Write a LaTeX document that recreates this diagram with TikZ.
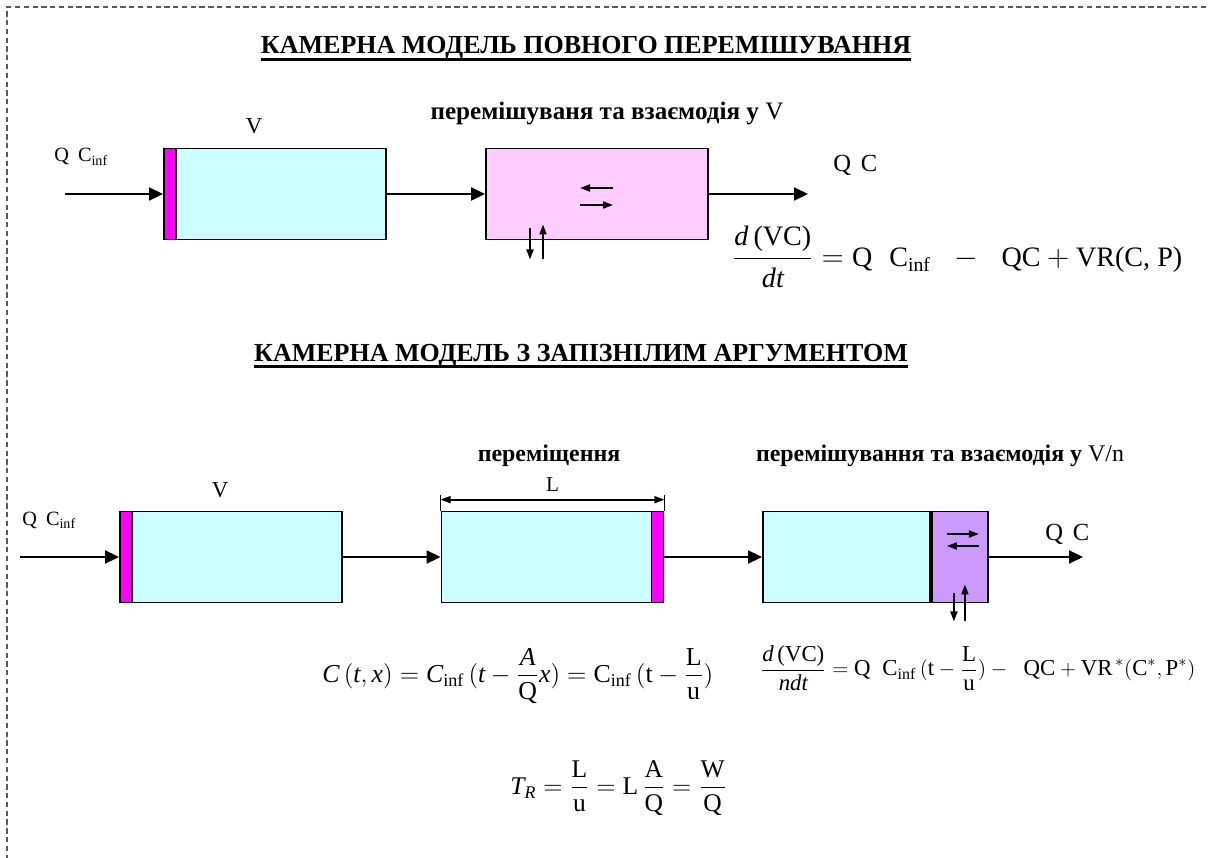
\documentclass[tikz,border=0pt]{standalone}
\usepackage{amsmath}
\usepackage{fontspec}
\setmainfont{Liberation Serif}
\usetikzlibrary{positioning,arrows.meta}
\definecolor{mycyan}{RGB}{204,255,255}
\definecolor{mymagenta}{RGB}{255,0,255}
\definecolor{mypink}{RGB}{255,204,255}
\definecolor{mylilac}{RGB}{204,153,255}
\definecolor{mygray}{RGB}{90,90,90}

\tikzset{
  cell/.style={draw, line width=1.1pt, minimum height=1.82cm, inner sep=0pt},
  wall/.style={draw, line width=1.1pt, fill=mymagenta, minimum width=0.24cm, minimum height=1.82cm, inner sep=0pt},
  flow/.style={line width=1.1pt, -{Triangle[length=0.28cm,width=0.26cm]}},
  xchg/.style={line width=1pt, -{Triangle[length=0.2cm,width=0.14cm]}},
  span/.style={line width=1pt, {Triangle[length=0.2cm,width=0.14cm]}-{Triangle[length=0.2cm,width=0.14cm]}},
  heading/.style={font=\fontsize{14.8}{17}\selectfont\bfseries, inner sep=0pt},
  caption/.style={font=\fontsize{14.3}{16}\selectfont\bfseries, inner sep=0pt},
  lbl/.style={font=\fontsize{13}{15}\selectfont, inner sep=0pt},
  eq/.style={font=\fontsize{16}{18}\selectfont, inner sep=0pt},
}

\begin{document}
\begin{tikzpicture}[x=0.02cm, y=-0.02cm]
  \useasboundingbox (0,0) rectangle (1210,858);
  \draw[mygray, line width=0.6pt, dash pattern=on 3pt off 2pt] (1215,7) -| (7,865);

  \node[heading, anchor=base] (title1) at (586,54) {КАМЕРНА МОДЕЛЬ ПОВНОГО ПЕРЕМІШУВАННЯ};
  \draw[line width=1.5pt] ([yshift=-3pt]title1.base west) -- ([yshift=-3pt]title1.base east);

  \node[cell, fill=mycyan, minimum width=4.44cm] (tank) at (275,194) {};
  \node[wall, anchor=west] (inlet) at (tank.west) {};
  \node[cell, fill=mypink, minimum width=4.44cm] (mixer) at (597,194) {};
  \coordinate (feed) at (65,194);
  \coordinate (drain) at (808,194);
  \draw[flow] (feed) -- (inlet.west);
  \draw[flow] (tank) -- (mixer);
  \draw[flow] (mixer) -- (drain);
  \draw[xchg] ([shift={(16,-6)}]mixer.center) -- ([shift={(-17,-6)}]mixer.center);
  \draw[xchg] ([shift={(-17,11)}]mixer.center) -- ([shift={(16,11)}]mixer.center);
  \draw[xchg] ([shift={(-67,-12)}]mixer.south) -- ([shift={(-67,19)}]mixer.south);
  \draw[xchg] ([shift={(-54,19)}]mixer.south) -- ([shift={(-54,-16)}]mixer.south);

  \node[lbl, anchor=base] (vol1) at (254,134) {V};
  \node[lbl, font=\fontsize{11.5}{14}\selectfont, anchor=base west] (qin1) at (54,162) {Q\hspace{0.45em}C\textsubscript{inf}};
  \node[caption, anchor=base] (mixlbl1) at (607,120) {перемішуваня та взаємодія у \textmd{V}};
  \node[lbl, font=\fontsize{14}{16}\selectfont, anchor=base west] (qout1) at (833,172) {Q\hspace{0.4em}C};
  \node[eq, anchor=west] (law1) at (732,257)
    {$\dfrac{\textit{d}\,\text{(VC)}}{\textit{dt}} = \text{Q}\;\;\text{C}_{\text{inf}}\;\;-\;\;\text{QC} + \text{VR(C, P)}$};

  \node[heading, anchor=base] (title2) at (581,361) {КАМЕРНА МОДЕЛЬ З ЗАПІЗНІЛИМ АРГУМЕНТОМ};
  \draw[line width=1.5pt] ([yshift=-3pt]title2.base west) -- ([yshift=-3pt]title2.base east);

  \node[cell, fill=mycyan, minimum width=4.44cm] (pipein) at (231,557) {};
  \node[wall, anchor=west] (inlet2) at (pipein.west) {};
  \node[cell, fill=mycyan, minimum width=4.44cm] (plug) at (552.5,557) {};
  \node[wall, anchor=east] (outlet2) at (plug.east) {};
  \node[cell, fill=mycyan, minimum width=3.34cm] (cstr) at (846.5,557) {};
  \node[cell, fill=mylilac, minimum width=1.12cm, anchor=west] (zone) at (cstr.east) {};
  \coordinate (feed2) at (20,557);
  \coordinate (drain2) at (1083,557);
  \draw[flow] (feed2) -- (inlet2.west);
  \draw[flow] (pipein) -- (plug);
  \draw[flow] (outlet2) -- (cstr);
  \draw[flow] (zone) -- (drain2);
  \draw[line width=0.6pt] (plug.north west) -- ++(0,-16);
  \draw[line width=0.6pt] (plug.north east) -- ++(0,-16);
  \draw[span] ([yshift=6.2pt]plug.north west) -- ([yshift=6.2pt]plug.north east)
    node[lbl, font=\fontsize{12}{14}\selectfont, midway, above=4pt] (len) {L};
  \draw[xchg] ([shift={(-13,-23)}]zone.center) -- ([shift={(19,-23)}]zone.center);
  \draw[xchg] ([shift={(19,-11)}]zone.center) -- ([shift={(-13,-11)}]zone.center);
  \draw[xchg] ([shift={(-6,-10)}]zone.south) -- ([shift={(-6,18)}]zone.south);
  \draw[xchg] ([shift={(5,18)}]zone.south) -- ([shift={(5,-19)}]zone.south);

  \node[lbl, anchor=base] (vol2) at (220,497) {V};
  \node[lbl, font=\fontsize{11.5}{14}\selectfont, anchor=base west] (qin2) at (22,525) {Q\hspace{0.45em}C\textsubscript{inf}};
  \node[caption, font=\fontsize{13.6}{16}\selectfont\bfseries, anchor=base] (movelbl) at (549,461) {переміщення};
  \node[caption, font=\fontsize{13.6}{16}\selectfont\bfseries, anchor=base] (mixlbl2) at (940,461) {перемішування та взаємодія у \textmd{V/n}};
  \node[lbl, font=\fontsize{14}{16}\selectfont, anchor=base west] (qout2) at (1045,540) {Q\hspace{0.4em}C};

  \node[eq, font=\fontsize{14.7}{17}\selectfont, anchor=west] (delay) at (322,676)
    {$\textit{C}\,(\textit{t}, \textit{x}) = \textit{C}_{\text{inf}}\,(\textit{t} - \dfrac{\textit{A}}{\text{Q}}\textit{x}) = \text{C}_{\text{inf}}\,(\text{t} - \dfrac{\text{L}}{\text{u}})$};
  \node[eq, font=\fontsize{13}{15}\selectfont, anchor=west] (law2) at (760,668)
    {$\dfrac{\textit{d}\,\text{(VC)}}{\textit{ndt}} = \text{Q}\;\;\text{C}_{\text{inf}}\,(\text{t} - \dfrac{\text{L}}{\text{u}}) -\;\;\text{QC} + \text{VR}^{\,*}(\text{C}^{*}, \text{P}^{*})$};
  \node[eq, font=\fontsize{14.5}{17}\selectfont, anchor=west] (resid) at (510,788)
    {$\textit{T}_{\textit{R}} = \dfrac{\text{L}}{\text{u}} = \text{L}\,\dfrac{\text{A}}{\text{Q}} = \dfrac{\text{W}}{\text{Q}}$};
\end{tikzpicture}
\end{document}
